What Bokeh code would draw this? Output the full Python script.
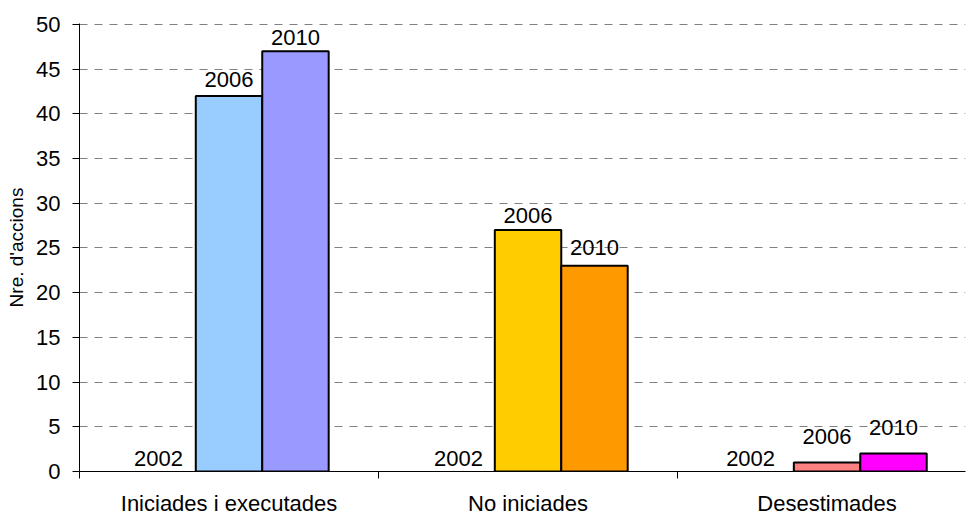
from bokeh.plotting import figure
from bokeh.models import FixedTicker, ColumnDataSource, Range1d, CustomJSTickFormatter
from bokeh.embed import file_html
from bokeh.resources import INLINE
from bokeh.core.properties import value

# ---- data ----
categories = ["Iniciades i executades", "No iniciades", "Desestimades"]
years = ["2002", "2006", "2010"]
values_2002 = [0, 0, 0]
values_2006 = [42, 27, 1]
values_2010 = [47, 23, 2]
y_ticks = [0, 5, 10, 15, 20, 25, 30, 35, 40, 45, 50]
y_label = "Nre. d'accions"

# ---- styles ----
colors_2002 = ["#99CCFF", "#FFCC00", "#FF8080"]
colors_2006 = ["#99CCFF", "#FFCC00", "#FF8080"]
colors_2010 = ["#9999FF", "#FF9900", "#FF00FF"]
label_dx = [[-4, 0, 0], [-3, 0, 0], [-10, 0, 0]]
label_dy = [[5, 8, 6], [5, 7, 10], [5, 18, 18]]
BASE_SHIFT = 8
FONT = "Liberation Sans"
bar_w = 1 / 4.5

series = [values_2002, values_2006, values_2010]
colors = [colors_2002, colors_2006, colors_2010]

xs, tops, fills, lalpha, texts, dxs, dys = [], [], [], [], [], [], []
for i, cat in enumerate(categories):
    for j, yr in enumerate(years):
        v = series[j][i]
        xs.append(i + 0.5 + (j - 1) * bar_w)
        tops.append(v)
        fills.append(colors[j][i])
        lalpha.append(1.0 if v > 0 else 0.0)
        texts.append(yr)
        dxs.append(label_dx[i][j])
        dys.append(-(label_dy[i][j] + BASE_SHIFT))

src = ColumnDataSource(dict(x=xs, top=tops, fill=fills, la=lalpha, text=texts, dx=dxs, dy=dys))

p = figure(width=968, height=518, x_range=Range1d(0, 2.963), y_range=Range1d(0, 50.1),
           output_backend="svg", toolbar_location=None,
           min_border_left=79, min_border_right=3, min_border_top=23, min_border_bottom=45)
p.outline_line_color = None
p.background_fill_color = "white"
p.border_fill_color = "white"

p.xgrid.visible = False
p.ygrid.ticker = FixedTicker(ticks=y_ticks)
p.ygrid.grid_line_color = "#808080"
p.ygrid.grid_line_dash = "8 7"
p.ygrid.grid_line_width = 1

p.vbar(x="x", top="top", bottom=0, width=bar_w, fill_color="fill", line_color="black",
       line_width=2, line_alpha="la", source=src)

p.text(x="x", y="top", text="text", x_offset="dx", y_offset="dy", source=src,
       text_align="center", text_baseline="alphabetic", text_font=value(FONT),
       text_font_size="22px", text_color="black")

# x axis
xa = p.xaxis[0]
xa.ticker = FixedTicker(ticks=[0.5, 1.5, 2.5], minor_ticks=[0, 1, 2, 3])
xa.formatter = CustomJSTickFormatter(args=dict(labels=categories),
                                     code="return labels[Math.floor(tick)] || '';")
xa.major_tick_out = 0
xa.major_tick_in = 0
xa.minor_tick_out = 7
xa.minor_tick_in = 0
xa.minor_tick_line_color = "black"
xa.axis_line_color = "black"
xa.major_label_standoff = 12
xa.major_label_text_font = FONT
xa.major_label_text_font_size = "22px"
xa.major_label_text_color = "black"

# y axis
ya = p.yaxis[0]
ya.ticker = FixedTicker(ticks=y_ticks)
ya.major_tick_out = 7
ya.major_tick_in = 0
ya.minor_tick_out = 0
ya.minor_tick_in = 0
ya.major_tick_line_color = "black"
ya.axis_line_color = "black"
ya.major_label_standoff = 12
ya.major_label_text_font = FONT
ya.major_label_text_font_size = "22px"
ya.major_label_text_color = "black"
ya.axis_label = y_label
ya.axis_label_text_font = FONT
ya.axis_label_text_font_size = "19px"
ya.axis_label_text_font_style = "normal"
ya.axis_label_text_color = "black"
ya.axis_label_standoff = 6

open("out.html", "w").write(file_html(p, INLINE))
